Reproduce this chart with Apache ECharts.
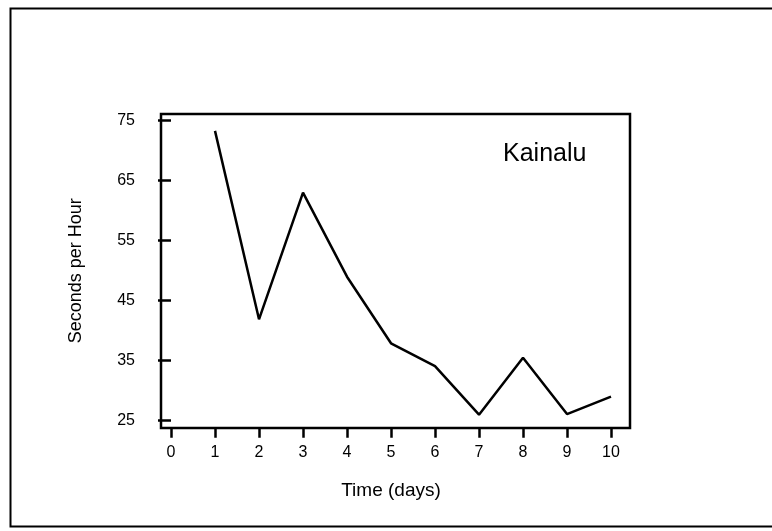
<!DOCTYPE html>
<html>
<head>
<meta charset="utf-8">
<script src="https://cdn.jsdelivr.net/npm/echarts@6/dist/echarts.min.js"></script>
<style>
html,body{margin:0;padding:0;background:#fff;}
#c{width:772px;height:531px;}
</style>
</head>
<body>
<div id="c"></div>
<script>
// Data
const days = [1, 2, 3, 4, 5, 6, 7, 8, 9, 10];
const secondsPerHour = [73.3, 41.9, 63.0, 49.0, 37.9, 34.1, 26.0, 35.5, 26.1, 29.0];
const xTicks = [0, 1, 2, 3, 4, 5, 6, 7, 8, 9, 10];
const yTicks = [25, 35, 45, 55, 65, 75];
const seriesLabel = 'Kainalu';
const xName = 'Time (days)';
const yName = 'Seconds per Hour';

const FONT = '"Liberation Sans", Arial, sans-serif';
const chart = echarts.init(document.getElementById('c'), null, {renderer: 'canvas'});

const points = days.map((d, i) => [d, secondsPerHour[i]]);

chart.setOption({
  animation: false,
  backgroundColor: '#fff',
  grid: [
    // frame
    {left: 161, right: 142, top: 114, bottom: 103, show: true, borderColor: '#000', borderWidth: 2.5, backgroundColor: 'transparent'},
    // data area
    {left: 171, right: 161, top: 120.7, bottom: 110.3}
  ],
  xAxis: [
    {gridIndex: 0, type: 'value', show: false, min: 0, max: 1},
    {
      gridIndex: 1, type: 'value', min: xTicks[0], max: xTicks[xTicks.length - 1], interval: 1,
      offset: 7,
      axisLine: {show: false},
      axisTick: {show: true, length: 10, lineStyle: {color: '#000', width: 2.5}},
      axisLabel: {color: '#000', fontFamily: FONT, fontSize: 16, margin: 17},
      splitLine: {show: false},
      name: xName, nameLocation: 'middle', nameGap: 54,
      nameTextStyle: {color: '#000', fontFamily: FONT, fontSize: 19}
    }
  ],
  yAxis: [
    {gridIndex: 0, type: 'value', show: false, min: 0, max: 1},
    {
      gridIndex: 1, type: 'value', min: yTicks[0], max: yTicks[yTicks.length - 1], interval: 10,
      offset: 10,
      axisLine: {show: false},
      axisTick: {show: true, length: 13, lineStyle: {color: '#000', width: 2.5}},
      axisLabel: {color: '#000', fontFamily: FONT, fontSize: 16, margin: 26},
      splitLine: {show: false},
      name: yName, nameLocation: 'middle', nameGap: 76,
      nameTextStyle: {color: '#000', fontFamily: FONT, fontSize: 18}
    }
  ],
  series: [{
    type: 'line',
    name: seriesLabel,
    xAxisIndex: 1, yAxisIndex: 1,
    data: points,
    symbol: 'none',
    lineStyle: {color: '#000', width: 2.5},
    clip: false
  }],
  graphic: [
    {type: 'rect', left: 8, top: 6, shape: {width: 800, height: 518}, style: {fill: 'none', stroke: '#000', lineWidth: 2}, silent: true},
    {type: 'text', left: 503, top: 142, style: {text: seriesLabel, font: '25px ' + FONT, fill: '#000'}}
  ]
});
</script>
</body>
</html>
